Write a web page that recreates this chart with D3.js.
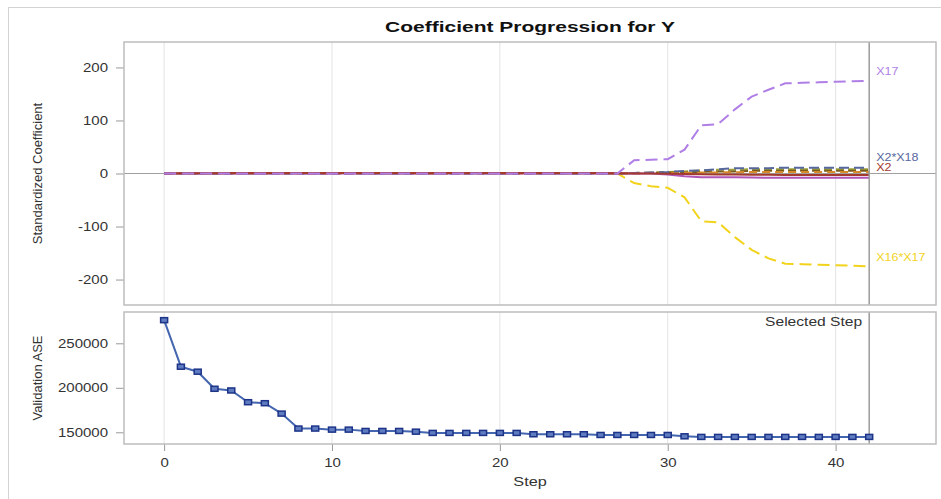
<!DOCTYPE html>
<html>
<head>
<meta charset="utf-8">
<script src="https://cdn.jsdelivr.net/npm/d3@7"></script>
<style>
  body { margin: 0; background: #fff; }
  svg text { font-family: "Liberation Sans", Arial, sans-serif; }
</style>
</head>
<body>
<svg class="chart"></svg>
<script>
// steps 0..42
var steps = d3.range(0, 43);
var xTicks = [0, 10, 20, 30, 40];
var coefTicks = [-200, -100, 0, 100, 200];
var aseTicks = [150000, 200000, 250000];
var selectedStep = 42;

var z = function(n) { return d3.range(n).map(function() { return 0; }); };

// coefficient series (value per step)
var coefNames  = ["X16*X17", "X5", "X9", "X11", "X2*X18", "X7*X9", "X2", "X17"];
var coefColors = ["#f2d31c", "#9aa13a", "#7a5a1e", "#d68a2a", "#56679e", "#b255b8", "#a23a2e", "#b07fe6"];
var coefDash   = ["12,6", "8,4", "8,4", "8,5", "10,5", null, null, "12,6"];
var coefLabel  = [true, false, false, false, true, false, true, true];
var coefValues = [
  z(28).concat([-18, -24, -27, -45, -90, -92, -120, -144, -160, -170, -171, -172, -173, -174, -175]),
  z(28).concat([1, 2, 3, 4, 6, 7, 7, 8, 8, 8, 8, 8, 8, 8, 8]),
  z(28).concat([0.5, 1, 1.5, 2, 3, 4, 4, 5, 5, 5, 5, 5, 5, 5, 5]),
  z(28).concat([0.5, 1, 1, 1.5, 2, 2, 2.5, 3, 3, 3, 3, 3, 3, 3, 3]),
  z(27).concat([0, 1, 2, 3, 5, 6, 8, 10, 10, 10, 11, 11, 11, 11, 11, 11]),
  z(30).concat([-2, -5, -7, -7, -7, -7.5, -8, -8, -8, -8, -8, -8, -8]),
  [0, 0.5, 0.6, 0.7, 0.8, 0.9, 1, 1, 1, 1, 1, 1, 1, 1, 1, 1, 1, 1, 1, 1, 1, 1, 1, 1, 1, 1, 1,
   0.5, 0, 0, -0.5, -1, -1.5, -2, -2, -2.5, -2.5, -3, -3, -3, -3, -3, -3],
  z(28).concat([25, 26, 27, 45, 91, 93, 121, 145, 158, 170, 171, 172, 173, 174, 175])
];

// validation ASE per step
var aseValues = [276000, 223700, 218100, 198900, 197000, 183800, 182700, 171000, 154200, 154200,
  153000, 153000, 151500, 151500, 151500, 150700, 149300, 149300, 149300, 149300, 149300, 149300,
  147800, 147800, 147800, 147800, 147000, 147000, 147000, 147000, 147000, 145500,
  144800, 144800, 144800, 144800, 144800, 144800, 144800, 144800, 144800, 144800, 144800];

var W = 941, H = 499;
var left = 124, right = 936;
var top1 = 42, bot1 = 305, top2 = 312, bot2 = 444;
var SX = 1.25;
var plain = function(d) { return String(d); };

var svg = d3.select(".chart").attr("width", W).attr("height", H);

svg.append("rect").attr("x", 8.5).attr("y", 7.5).attr("width", 940).attr("height", 500)
  .attr("fill", "none").attr("stroke", "#d4d4d4");

var x = d3.scaleLinear().domain([-2.39, 45.98]).range([left, right]);
var y1 = d3.scaleLinear().domain([-248, 248]).range([bot1, top1]);
var y2 = d3.scaleLinear().domain([136850, 285170]).range([bot2, top2]);

function stretchText(sel, sx, dx) {
  sel.attr("transform", "scale(" + sx + ",1)");
  if (dx !== undefined) sel.attr("x", dx / sx);
}

// title
svg.append("text")
  .attr("transform", "translate(530,32) scale(1.4,1)")
  .attr("text-anchor", "middle")
  .attr("font-size", 15).attr("font-weight", "bold").attr("fill", "#111")
  .text("Coefficient Progression for Y");

function panel(t, b) {
  var g = svg.append("g");
  g.selectAll(".grid").data(xTicks).enter().append("line")
    .attr("x1", function(d) { return x(d); }).attr("x2", function(d) { return x(d); })
    .attr("y1", t).attr("y2", b).attr("stroke", "#e3e3e3").attr("stroke-width", 1);
  return g;
}

// ---------- top panel
var g1 = panel(top1, bot1);
g1.append("line").attr("x1", left).attr("x2", right).attr("y1", y1(0)).attr("y2", y1(0))
  .attr("stroke", "#a0a0a0").attr("stroke-width", 1);

svg.append("defs").append("clipPath").attr("id", "clip-1")
  .append("rect").attr("x", left).attr("y", top1).attr("width", right - left).attr("height", bot1 - top1);

var line1 = d3.line().x(function(d, i) { return x(steps[i]); }).y(function(d) { return y1(d); });
var lines = svg.append("g").attr("clip-path", "url(#clip-1)");
coefValues.forEach(function(vals, k) {
  lines.append("path").attr("d", line1(vals))
    .attr("fill", "none").attr("stroke", coefColors[k]).attr("stroke-width", 2)
    .attr("stroke-dasharray", coefDash[k]);
});

// curve labels, pushed apart when they collide
var labels = [];
coefValues.forEach(function(vals, k) {
  if (coefLabel[k]) labels.push({k: k, y: y1(vals[vals.length - 1]) - 8});
});
labels.sort(function(a, b) { return a.y - b.y; });
for (var i = 1; i < labels.length; i++) {
  if (labels[i].y - labels[i - 1].y < 10) {
    var mid = (labels[i].y + labels[i - 1].y) / 2;
    labels[i - 1].y = mid - 5;
    labels[i].y = mid + 5;
  }
}
labels.forEach(function(l) {
  svg.append("text")
    .attr("transform", "translate(" + (x(selectedStep) + 7) + "," + l.y + ") scale(" + SX + ",1)")
    .attr("dominant-baseline", "middle").attr("font-size", 10).attr("fill", coefColors[l.k])
    .text(coefNames[l.k]);
});

svg.append("line").attr("x1", x(selectedStep)).attr("x2", x(selectedStep)).attr("y1", top1).attr("y2", bot1)
  .attr("stroke", "#9a9a9a").attr("stroke-width", 1.5);

var ax1 = svg.append("g").attr("transform", "translate(" + left + ",0)")
  .call(d3.axisLeft(y1).tickValues(coefTicks).tickFormat(plain).tickSize(8).tickPadding(8));
ax1.select(".domain").remove();
ax1.selectAll("line").attr("stroke", "#999");
ax1.selectAll("text").attr("font-size", 12).attr("fill", "#333").attr("font-family", null)
  .call(stretchText, SX, -16);

svg.append("rect").attr("x", left).attr("y", top1).attr("width", right - left).attr("height", bot1 - top1)
  .attr("fill", "none").attr("stroke", "#bdbdbd").attr("stroke-width", 1.5);

svg.append("text").attr("transform", "translate(42," + ((top1 + bot1) / 2) + ") rotate(-90)")
  .attr("text-anchor", "middle").attr("font-size", 13).attr("fill", "#333")
  .text("Standardized Coefficient");

// ---------- bottom panel
panel(top2, bot2);
svg.append("line").attr("x1", x(selectedStep)).attr("x2", x(selectedStep)).attr("y1", top2).attr("y2", bot2)
  .attr("stroke", "#9a9a9a").attr("stroke-width", 1.5);

var line2 = d3.line().x(function(d, i) { return x(steps[i]); }).y(function(d) { return y2(d); });
svg.append("path").attr("d", line2(aseValues))
  .attr("fill", "none").attr("stroke", "#4466b0").attr("stroke-width", 2);
svg.append("g").selectAll("rect").data(aseValues).enter().append("rect")
  .attr("x", function(d, i) { return x(steps[i]) - 3.5; })
  .attr("y", function(d) { return y2(d) - 2.5; })
  .attr("width", 7).attr("height", 5)
  .attr("fill", "#5f7cc0").attr("stroke", "#1c3388").attr("stroke-width", 1.5);

var ax2 = svg.append("g").attr("transform", "translate(" + left + ",0)")
  .call(d3.axisLeft(y2).tickValues(aseTicks).tickFormat(plain).tickSize(8).tickPadding(8));
ax2.select(".domain").remove();
ax2.selectAll("line").attr("stroke", "#999");
ax2.selectAll("text").attr("font-size", 12).attr("fill", "#333").attr("font-family", null)
  .call(stretchText, SX, -16);

var ax3 = svg.append("g").attr("transform", "translate(0," + bot2 + ")")
  .call(d3.axisBottom(x).tickValues(xTicks).tickFormat(plain).tickSize(7).tickPadding(7));
ax3.select(".domain").remove();
ax3.selectAll("line").attr("stroke", "#999");
ax3.selectAll("text").attr("font-size", 12).attr("fill", "#333").attr("font-family", null)
  .call(stretchText, SX);

svg.append("rect").attr("x", left).attr("y", top2).attr("width", right - left).attr("height", bot2 - top2)
  .attr("fill", "none").attr("stroke", "#bdbdbd").attr("stroke-width", 1.5);

svg.append("text")
  .attr("transform", "translate(" + (x(selectedStep) - 7) + ",326) scale(" + SX + ",1)")
  .attr("text-anchor", "end").attr("font-size", 12.5).attr("fill", "#333")
  .text("Selected Step");

svg.append("text").attr("transform", "translate(42," + ((top2 + bot2) / 2) + ") rotate(-90)")
  .attr("text-anchor", "middle").attr("font-size", 13).attr("fill", "#333")
  .text("Validation ASE");

svg.append("text").attr("transform", "translate(530,486) scale(" + SX + ",1)")
  .attr("text-anchor", "middle").attr("font-size", 13).attr("fill", "#333")
  .text("Step");
</script>
</body>
</html>
